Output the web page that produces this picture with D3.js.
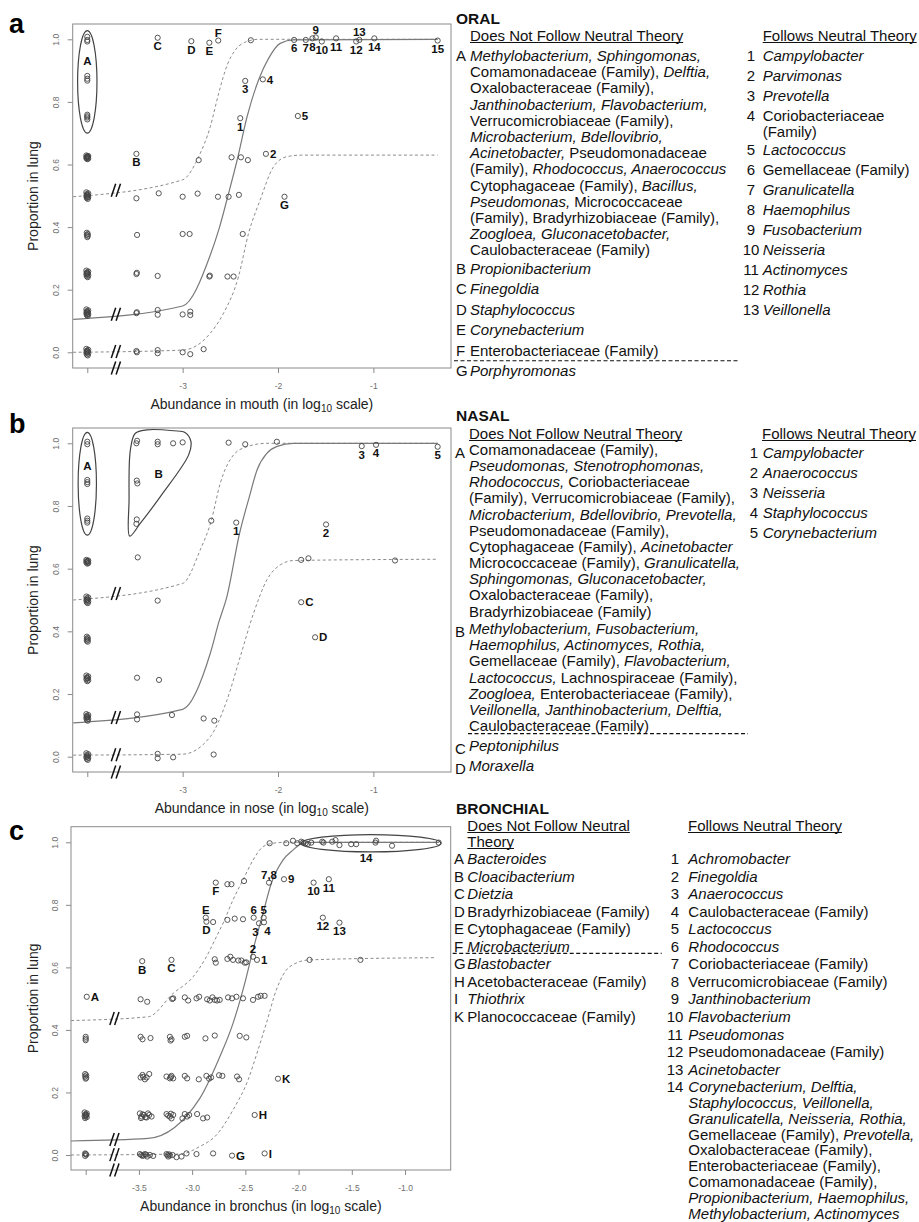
<!DOCTYPE html>
<html>
<head>
<meta charset="utf-8">
<script src="https://cdn.jsdelivr.net/npm/d3@7"></script>
<style>
  body { margin: 0; background: #fff; }
  svg { display: block; }
  text { font-family: "Liberation Sans", Arial, Helvetica, sans-serif; white-space: pre; }
</style>
</head>
<body>
<svg id="fig" width="919" height="1222"></svg>
<script>
// ---------------------------------------------------------------
// Values: log10 abundance in the source site (x) vs proportion of
// lungs in which the taxon was detected (y). Taxa absent from the
// source site are shown in the column at x = -4.
// ---------------------------------------------------------------

const yTicks = [0, 0.2, 0.4, 0.6, 0.8, 1.0];
const yTickLabels = ["0.0", "0.2", "0.4", "0.6", "0.8", "1.0"];

// ---------- ORAL ----------
const oralXTicks = [-4, -3, -2, -1];
const oralXTickLabels = ["", "-3", "-2", "-1"];
const oralZero = [[-4, 1.008], [-4, 0.998], [-4, 0.993], [-4, 0.883], [-4, 0.874], [-4, 0.868],
  [-4, 0.759], [-4, 0.754], [-4, 0.75], [-4, 0.744],
  [-4.01, 0.629], [-3.99, 0.627], [-4.005, 0.625], [-3.995, 0.623], [-4.01, 0.621], [-3.99, 0.619],
  [-4.0, 0.617], [-4.0, 0.624], [-4.004, 0.62], [-3.996, 0.626],
  [-4.01, 0.511], [-3.99, 0.508], [-4.005, 0.505], [-3.995, 0.502], [-4.01, 0.499], [-3.99, 0.496],
  [-4.005, 0.493], [-3.995, 0.49], [-4, 0.5], [-4, 0.504], [-4, 0.496],
  [-4.005, 0.382], [-3.995, 0.378], [-4.005, 0.375], [-3.995, 0.372], [-4, 0.368],
  [-4.01, 0.261], [-3.99, 0.258], [-4.005, 0.255], [-3.995, 0.252], [-4.01, 0.249], [-3.99, 0.246],
  [-4.005, 0.243], [-3.995, 0.24], [-4, 0.25], [-4, 0.254],
  [-4.01, 0.137], [-3.99, 0.134], [-4.005, 0.131], [-3.995, 0.128], [-4.01, 0.125], [-3.99, 0.122],
  [-4.005, 0.119], [-3.995, 0.116], [-4, 0.13], [-4, 0.121], [-4, 0.126],
  [-4.01, 0.011], [-3.99, 0.008], [-4.005, 0.005], [-3.995, 0.002], [-4.01, -0.001], [-3.99, -0.004],
  [-4.005, -0.007], [-3.995, -0.01], [-4, 0.0], [-4, 0.004]];
const oralPts = [[-3.485, 0.492], [-3.478, 0.375], [-3.485, 0.25], [-3.48, 0.254], [-3.485, 0.125], [-3.48, 0.128],
  [-3.485, 0.004], [-3.48, 0.0], [-3.251, 0.508], [-3.262, 0.244], [-3.262, 0.135], [-3.262, 0.12],
  [-3.262, 0.007], [-3.262, -0.003], [-2.285, 0.997], [-3.0, 0.497], [-2.843, 0.507], [-2.63, 0.497],
  [-2.518, 0.497], [-2.41, 0.503], [-3.0, 0.378], [-2.927, 0.378], [-2.72, 0.242], [-2.715, 0.245],
  [-2.53, 0.242], [-2.466, 0.242], [-3.0, 0.121], [-2.92, 0.13], [-2.92, 0.119], [-3.0, 0.0],
  [-2.92, -0.006], [-2.78, 0.01], [-2.832, 0.614], [-2.487, 0.623], [-2.389, 0.623], [-2.316, 0.614],
  [-2.37, 0.378]];
const oralTagged = [["B", -3.485, 0.634], ["C", -3.262, 1.005], ["D", -2.909, 0.994], ["E", -2.72, 0.989],
  ["F", -2.627, 0.996], ["G", -1.932, 0.497], ["1", -2.396, 0.748], ["2", -2.127, 0.634], ["3", -2.344, 0.867],
  ["4", -2.159, 0.872], ["5", -1.792, 0.755], ["6", -1.831, 0.998], ["7", -1.709, 0.998], ["8", -1.639, 1.003],
  ["9", -1.604, 1.006], ["10", -1.541, 0.993], ["11", -1.391, 1.003], ["12", -1.18, 0.993], ["13", -1.147, 0.998],
  ["14", -0.99, 1.003], ["15", -0.326, 0.996]];
const oralFit = [[-4.148, 0.105], [-3.0, 0.148], [-2.71, 0.311], [-2.613, 0.4], [-2.525, 0.5], [-2.424, 0.62],
  [-2.326, 0.751], [-2.204, 0.87], [-2.099, 0.939], [-1.977, 0.987], [-1.838, 0.998], [-0.326, 1.0]];
const oralUpper = [[-4.148, 0.497], [-3.0, 0.551], [-2.832, 0.625], [-2.71, 0.721], [-2.62, 0.83],
  [-2.53, 0.92], [-2.45, 0.965], [-2.35, 0.99], [-2.2, 1.0], [-0.326, 1.0]];
const oralLower = [[-4.148, 0.0], [-3.0, 0.007], [-2.71, 0.061], [-2.571, 0.125], [-2.414, 0.242],
  [-2.309, 0.38], [-2.187, 0.487], [-2.047, 0.593], [-1.907, 0.625], [-1.75, 0.63], [-0.326, 0.63]];
// group outline: tag, centre x, centre y, radius x, radius y, tag x, tag y
const oralGroups = [["A", -4, 0.864, 0.1016, 0.164, -4, 0.931]];

const oralOutliers = [
  ["A", ["*Methylobacterium, Sphingomonas,*", "Comamonadaceae (Family), *Delftia,*",
         "Oxalobacteraceae (Family),", "*Janthinobacterium, Flavobacterium,*",
         "Verrucomicrobiaceae (Family),", "*Microbacterium, Bdellovibrio,*",
         "*Acinetobacter,* Pseudomonadaceae", "(Family), *Rhodococcus, Anaerococcus*",
         "Cytophagaceae (Family), *Bacillus,*", "*Pseudomonas,* Micrococcaceae",
         "(Family), Bradyrhizobiaceae (Family),", "*Zoogloea, Gluconacetobacter,*",
         "Caulobacteraceae (Family)"]],
  ["B", ["*Propionibacterium*"]],
  ["C", ["*Finegoldia*"]],
  ["D", ["*Staphylococcus*"]],
  ["E", ["*Corynebacterium*"]],
  ["F", ["Enterobacteriaceae (Family)"]],
  ["G", ["*Porphyromonas*"]]
];
const oralNeutral = [
  ["1", ["*Campylobacter*"]], ["2", ["*Parvimonas*"]], ["3", ["*Prevotella*"]],
  ["4", ["Coriobacteriaceae", "(Family)"]], ["5", ["*Lactococcus*"]], ["6", ["Gemellaceae (Family)"]],
  ["7", ["*Granulicatella*"]], ["8", ["*Haemophilus*"]], ["9", ["*Fusobacterium*"]],
  ["10", ["*Neisseria*"]], ["11", ["*Actinomyces*"]], ["12", ["*Rothia*"]], ["13", ["*Veillonella*"]]
];

// ---------- NASAL ----------
const nasalXTicks = [-4, -3, -2, -1];
const nasalXTickLabels = ["", "-3", "-2", "-1"];
const nasalZero = [[-4, 1.005], [-4, 0.997], [-4, 0.883], [-4, 0.876], [-4, 0.87], [-4, 0.76], [-4, 0.753],
  [-4, 0.747],
  [-4.01, 0.628], [-3.99, 0.626], [-4.005, 0.624], [-3.995, 0.622], [-4.01, 0.62], [-3.99, 0.618],
  [-4, 0.616], [-4, 0.623],
  [-4.01, 0.511], [-3.99, 0.508], [-4.005, 0.505], [-3.995, 0.502], [-4.01, 0.499], [-3.99, 0.496],
  [-4.005, 0.493], [-3.995, 0.49], [-4, 0.5],
  [-4.005, 0.383], [-3.995, 0.379], [-4.005, 0.376], [-3.995, 0.373], [-4.005, 0.37], [-3.995, 0.367],
  [-4.01, 0.259], [-3.99, 0.256], [-4.005, 0.253], [-3.995, 0.25], [-4.01, 0.247], [-3.99, 0.244],
  [-4, 0.241], [-4, 0.251],
  [-4.01, 0.136], [-3.99, 0.133], [-4.005, 0.13], [-3.995, 0.127], [-4.01, 0.124], [-3.99, 0.121],
  [-4.005, 0.118], [-3.995, 0.115], [-4, 0.126],
  [-4.01, 0.011], [-3.99, 0.008], [-4.005, 0.005], [-3.995, 0.002], [-4.01, -0.001], [-3.99, -0.004],
  [-4.005, -0.007], [-3.995, -0.01], [-4, 0.0]];
const nasalPts = [[-3.485, 1.0], [-3.478, 1.008], [-3.262, 1.005], [-3.262, 0.997], [-3.10, 1.0], [-3.0, 1.003],
  [-3.481, 0.881], [-3.475, 0.872], [-3.481, 0.757], [-3.485, 0.743], [-3.471, 0.636], [-3.262, 0.498],
  [-3.478, 0.252], [-3.248, 0.245], [-3.478, 0.135], [-3.478, 0.119], [-3.112, 0.133], [-2.78, 0.122],
  [-2.668, 0.115], [-3.262, 0.009], [-3.262, -0.005], [-3.10, -0.002], [-2.675, 0.007], [-2.518, 1.002],
  [-2.344, 0.997], [-2.012, 1.005], [-2.70, 0.753], [-1.757, 0.628], [-1.681, 0.633], [-0.773, 0.626]];
const nasalTagged = [["1", -2.438, 0.747], ["2", -1.496, 0.741], ["3", -1.122, 0.991], ["4", -0.972, 0.995],
  ["5", -0.326, 0.989], ["C", -1.757, 0.493], ["D", -1.611, 0.381]];
const nasalFit = [[-4.148, 0.108], [-3.0, 0.151], [-2.71, 0.33], [-2.62, 0.43], [-2.536, 0.511], [-2.403, 0.713],
  [-2.3, 0.83], [-2.22, 0.915], [-2.117, 0.968], [-2.01, 0.99], [-1.84, 1.0], [-0.326, 1.0]];
const nasalUpper = [[-4.148, 0.5], [-3.0, 0.553], [-2.815, 0.66], [-2.7, 0.753], [-2.606, 0.872],
  [-2.466, 0.963], [-2.326, 0.989], [-2.117, 1.0], [-0.326, 1.0]];
const nasalLower = [[-4.148, 0.005], [-3.0, 0.008], [-2.71, 0.064], [-2.536, 0.18], [-2.396, 0.319],
  [-2.257, 0.457], [-2.117, 0.564], [-1.977, 0.612], [-1.838, 0.626], [-0.326, 0.63]];
const nasalGroups = [["A", -4, 0.871, 0.096, 0.164, -4, 0.929]];
// outline of group B
const nasalHull = [[-3.555, 0.704], [-3.562, 0.819], [-3.548, 0.979], [-3.496, 1.032], [-3.373, 1.043],
  [-3.094, 1.04], [-2.972, 1.034], [-2.913, 1.005], [-2.937, 0.963], [-3.234, 0.83], [-3.443, 0.745]];
const nasalHullTag = ["B", -3.251, 0.902];

const nasalOutliers = [
  ["A", ["Comamonadaceae (Family),", "*Pseudomonas, Stenotrophomonas,*",
         "*Rhodococcus,* Coriobacteriaceae", "(Family), Verrucomicrobiaceae (Family),",
         "*Microbacterium, Bdellovibrio, Prevotella,*", "Pseudomonadaceae (Family),",
         "Cytophagaceae (Family), *Acinetobacter*", "Micrococcaceae (Family), *Granulicatella,*",
         "*Sphingomonas, Gluconacetobacter,*", "Oxalobacteraceae (Family),",
         "Bradyrhizobiaceae (Family)"]],
  ["B", ["*Methylobacterium, Fusobacterium,*", "*Haemophilus, Actinomyces, Rothia,*",
         "Gemellaceae (Family), *Flavobacterium,*", "*Lactococcus,* Lachnospiraceae (Family),",
         "*Zoogloea,* Enterobacteriaceae (Family),", "*Veillonella, Janthinobacterium, Delftia,*",
         "Caulobacteraceae (Family)"]],
  ["C", ["*Peptoniphilus*"]],
  ["D", ["*Moraxella*"]]
];
const nasalNeutral = [
  ["1", ["*Campylobacter*"]], ["2", ["*Anaerococcus*"]], ["3", ["*Neisseria*"]],
  ["4", ["*Staphylococcus*"]], ["5", ["*Corynebacterium*"]]
];

// ---------- BRONCHIAL ----------
const bronchXTicks = [-4, -3.5, -3.0, -2.5, -2.0, -1.5, -1.0];
const bronchXTickLabels = ["", "-3.5", "-3.0", "-2.5", "-2.0", "-1.5", "-1.0"];
const bronchZero = [[-4, 0.378], [-4, 0.372], [-4, 0.367],
  [-4.005, 0.259], [-3.995, 0.255], [-4.005, 0.251], [-3.995, 0.247], [-4, 0.244],
  [-4.01, 0.136], [-3.99, 0.133], [-4.005, 0.13], [-3.995, 0.127], [-4.01, 0.124], [-3.99, 0.121],
  [-4.005, 0.118], [-3.995, 0.129], [-4, 0.125],
  [-4.005, 0.005], [-3.995, 0.001], [-4.005, -0.003], [-4, 0.003]];
const bronchPts = [
  [-3.484, 0.498], [-3.422, 0.49], [-3.1875, 0.499], [-3.178, 0.501], [-3.069, 0.504], [-3.0375, 0.494],
  [-2.959, 0.501], [-2.934, 0.506], [-2.859, 0.498], [-2.834, 0.494], [-2.809, 0.504], [-2.7875, 0.496],
  [-2.766, 0.494], [-2.741, 0.496], [-2.6625, 0.504], [-2.625, 0.501], [-2.584, 0.506], [-2.522, 0.501],
  [-2.428, 0.496], [-2.381, 0.506], [-2.356, 0.509], [-2.319, 0.509],
  [-3.484, 0.378], [-3.466, 0.37], [-3.391, 0.374], [-3.209, 0.378], [-3.194, 0.37], [-3.203, 0.366],
  [-3.069, 0.378], [-3.047, 0.381], [-2.875, 0.373], [-2.7875, 0.382], [-2.553, 0.381], [-2.491, 0.376],
  [-3.484, 0.248], [-3.466, 0.256], [-3.444, 0.242], [-3.428, 0.248], [-3.403, 0.259], [-3.241, 0.251],
  [-3.209, 0.245], [-3.194, 0.253], [-3.178, 0.245], [-3.069, 0.253], [-3.047, 0.245], [-2.9375, 0.242],
  [-2.866, 0.253], [-2.841, 0.244], [-2.822, 0.248], [-2.747, 0.255], [-2.716, 0.253], [-2.578, 0.251],
  [-2.559, 0.242], [-3.2, 0.249], [-3.46, 0.25],
  [-3.491, 0.133], [-3.475, 0.123], [-3.453, 0.128], [-3.428, 0.12], [-3.403, 0.128], [-3.381, 0.123],
  [-3.465, 0.13], [-3.44, 0.121], [-3.415, 0.133], [-3.48, 0.118],
  [-3.241, 0.131], [-3.209, 0.123], [-3.194, 0.117], [-3.178, 0.128], [-3.225, 0.126], [-3.2, 0.132],
  [-3.091, 0.117], [-3.069, 0.131],
  [-3.047, 0.123], [-3.028, 0.128], [-2.953, 0.131], [-2.897, 0.117], [-2.859, 0.12],
  [-3.491, 0.003], [-3.466, -0.003], [-3.444, 0.003], [-3.422, -0.005], [-3.397, 0.0], [-3.366, -0.003],
  [-3.478, 0.0], [-3.455, -0.001], [-3.432, 0.001],
  [-3.241, 0.003], [-3.225, -0.005], [-3.209, -0.002], [-3.184, 0.0], [-3.232, 0.0], [-3.216, 0.002],
  [-3.147, -0.007], [-3.1, -0.005],
  [-3.053, 0.005], [-2.959, 0.003], [-2.803, 0.005],
  [-2.7875, 0.626], [-2.778, 0.615], [-2.669, 0.627], [-2.641, 0.634], [-2.616, 0.624], [-2.566, 0.622],
  [-2.5375, 0.622], [-2.506, 0.615], [-2.491, 0.616], [-1.897, 0.624], [-1.419, 0.624],
  [-2.803, 0.745], [-2.669, 0.752], [-2.6, 0.756], [-2.522, 0.754],
  [-2.669, 0.866], [-2.631, 0.866], [-2.5125, 0.876],
  [-2.272, 0.997], [-2.116, 0.997], [-2.053, 1.005], [-2.0125, 0.997], [-1.975, 1.002], [-1.959, 0.999],
  [-1.934, 0.997], [-1.9125, 0.995], [-1.881, 0.999], [-1.778, 1.002], [-1.766, 0.999], [-1.684, 1.002],
  [-1.653, 1.007], [-1.616, 0.991], [-1.506, 0.994], [-1.459, 0.994], [-1.278, 0.999], [-1.272, 1.005],
  [-1.122, 0.989], [-0.684, 0.999]];
const bronchTagged = [["A", -3.99, 0.506], ["B", -3.469, 0.62], ["C", -3.194, 0.624], ["D", -2.866, 0.746],
  ["E", -2.872, 0.759], ["F", -2.778, 0.871], ["G", -2.625, -0.002], ["H", -2.4125, 0.128], ["I", -2.319, 0.005],
  ["K", -2.194, 0.244], ["1", -2.391, 0.624], ["2", -2.428, 0.634], ["3", -2.372, 0.741], ["4", -2.325, 0.744],
  ["5", -2.328, 0.759], ["6", -2.422, 0.759], ["7,8", -2.278, 0.871], ["9", -2.1375, 0.882],
  ["10", -1.859, 0.871], ["11", -1.716, 0.882], ["12", -1.772, 0.759], ["13", -1.616, 0.743]];
const bronchFit = [[-4.1375, 0.0448], [-3.4125, 0.053], [-2.928, 0.181], [-2.74, 0.314], [-2.616, 0.421],
  [-2.506, 0.549], [-2.428, 0.656], [-2.334, 0.773], [-2.256, 0.869], [-2.147, 0.943], [-2.053, 0.975],
  [-1.975, 0.995], [-1.866, 1.0], [-0.684, 1.0]];
const bronchUpper = [[-4.1375, 0.43], [-3.4125, 0.442], [-3.178, 0.517], [-2.991, 0.57], [-2.866, 0.634],
  [-2.772, 0.698], [-2.703, 0.746], [-2.616, 0.816], [-2.522, 0.88], [-2.428, 0.943], [-2.334, 0.986],
  [-2.241, 0.997], [-2.116, 1.0], [-0.684, 1.0]];
const bronchLower = [[-4.1375, 0.0], [-3.116, 0.003], [-2.928, 0.027], [-2.772, 0.064], [-2.616, 0.144],
  [-2.475, 0.24], [-2.381, 0.336], [-2.303, 0.421], [-2.209, 0.528], [-2.084, 0.602], [-1.897, 0.624],
  [-0.709, 0.631]];
const bronchGroups = [["14", -1.319, 0.997, 0.656, 0.0277, -1.366, 0.949]];

const bronchOutliers = [
  ["A", ["*Bacteroides*"]], ["B", ["*Cloacibacterium*"]], ["C", ["*Dietzia*"]],
  ["D", ["Bradyrhizobiaceae (Family)"]], ["E", ["Cytophagaceae (Family)"]], ["F", ["*Microbacterium*"]],
  ["G", ["*Blastobacter*"]], ["H", ["Acetobacteraceae (Family)"]], ["I", ["*Thiothrix*"]],
  ["K", ["Planococcaceae (Family)"]]
];
const bronchNeutral = [
  ["1", ["*Achromobacter*"]], ["2", ["*Finegoldia*"]], ["3", ["*Anaerococcus*"]],
  ["4", ["Caulobacteraceae (Family)"]], ["5", ["*Lactococcus*"]], ["6", ["*Rhodococcus*"]],
  ["7", ["Coriobacteriaceae (Family)"]], ["8", ["Verrucomicrobiaceae (Family)"]],
  ["9", ["*Janthinobacterium*"]], ["10", ["*Flavobacterium*"]], ["11", ["*Pseudomonas*"]],
  ["12", ["Pseudomonadaceae (Family)"]], ["13", ["*Acinetobacter*"]],
  ["14", ["*Corynebacterium, Delftia,*", "*Staphylococcus, Veillonella,*",
          "*Granulicatella, Neisseria, Rothia,*", "Gemellaceae (Family), *Prevotella,*",
          "Oxalobacteraceae (Family),", "Enterobacteriaceae (Family),", "Comamonadaceae (Family),",
          "*Propionibacterium, Haemophilus,*", "*Methylobacterium, Actinomyces*"]]
];

// ---------------------------------------------------------------
// Layout and styling
// ---------------------------------------------------------------
// where each point tag sits: b below, a above, r right, bl/br below and nudged left/right
const tagSide = {
  oral: {B: "b", C: "b", D: "b", E: "b", F: "a", G: "b", "1": "b", "2": "r", "3": "b", "4": "r", "5": "r",
         "6": "b", "7": "b", "8": "b", "9": "a", "10": "b", "11": "b", "12": "b", "13": "a", "14": "b", "15": "b"},
  nasal: {"1": "b", "2": "b", "3": "b", "4": "b", "5": "b", C: "r", D: "r"},
  bronch: {A: "r", B: "b", C: "b", D: "b", E: "a", F: "b", G: "r", H: "r", I: "r", K: "r",
           "1": "r", "2": "a", "3": "bl", "4": "br", "5": "a", "6": "a", "7,8": "a", "9": "r",
           "10": "b", "11": "b", "12": "b", "13": "b"}
};

const svg = d3.select("#fig");
const INK = "#111";

function richLine(g, x, y, str, size) {
  const t = g.append("text").attr("x", x).attr("y", y).attr("font-size", size).attr("fill", INK);
  str.split("*").forEach((part, i) => {
    if (!part) return;
    t.append("tspan").attr("font-style", i % 2 ? "italic" : "normal").text(part);
  });
  return t;
}

function underlined(g, x, y, str, size) {
  const t = g.append("text").attr("x", x).attr("y", y).attr("font-size", size).attr("fill", INK).text(str);
  const w = t.node().getComputedTextLength();
  g.append("line").attr("x1", x).attr("x2", x + w).attr("y1", y + 2).attr("y2", y + 2)
    .attr("stroke", INK).attr("stroke-width", 1.1);
}

function drawPanel(L, P) {
  const x = d3.scaleLinear().domain(L.xd).range([L.left, L.right]);
  const y = d3.scaleLinear().domain(L.yd).range([L.bottom, L.top]);
  const g = svg.append("g");

  // x axis
  const ax = g.append("g").attr("transform", `translate(0,${L.bottom})`)
    .call(d3.axisBottom(x).tickValues(P.xTicks).tickFormat((d, i) => P.xTickLabels[i])
      .tickSize(5).tickPadding(9.5));
  ax.select(".domain").remove();
  ax.attr("color", "#8a8a8a").attr("font-size", 8.5).attr("font-family", null);
  ax.selectAll("text").attr("fill", "#6e6e6e");

  // y axis, labels parallel to the axis
  const ay = g.append("g").attr("transform", `translate(${L.left},0)`)
    .call(d3.axisLeft(y).tickValues(yTicks).tickFormat((d, i) => yTickLabels[i]).tickSize(5));
  ay.select(".domain").remove();
  ay.attr("color", "#8a8a8a").attr("font-size", 8.5).attr("font-family", null);
  ay.selectAll("text").attr("fill", "#6e6e6e").attr("x", null).attr("dy", null)
    .attr("text-anchor", "middle").attr("transform", "translate(-13.5,0) rotate(-90)");

  // frame
  g.append("rect").attr("x", L.left).attr("y", L.top).attr("width", L.right - L.left)
    .attr("height", L.bottom - L.top).attr("fill", "none").attr("stroke", "#8a8a8a").attr("stroke-width", 1);

  // titles
  const xt = g.append("text").attr("x", (L.left + L.right) / 2).attr("y", L.bottom + 41)
    .attr("text-anchor", "middle").attr("font-size", 14).attr("fill", "#222");
  xt.append("tspan").text(`Abundance in ${L.site} (in log`);
  xt.append("tspan").attr("font-size", 10).attr("dy", 3).text("10");
  xt.append("tspan").attr("dy", -3).text(" scale)");
  g.append("text").attr("transform", `translate(38,${(L.top + L.bottom) / 2}) rotate(-90)`)
    .attr("text-anchor", "middle").attr("font-size", 14).attr("fill", "#222").text("Proportion in lung");
  g.append("text").attr("x", 9).attr("y", L.letterY).attr("font-size", 27).attr("font-weight", "bold")
    .attr("fill", "#000").text(L.letter);

  // neutral model fit and its bounds
  const line = d3.line().x(d => x(d[0])).y(d => y(d[1])).curve(d3.curveMonotoneX);
  g.append("path").attr("d", line(P.upper)).attr("fill", "none").attr("stroke", "#8c8c8c")
    .attr("stroke-width", 1).attr("stroke-dasharray", "3,2.5");
  g.append("path").attr("d", line(P.lower)).attr("fill", "none").attr("stroke", "#8c8c8c")
    .attr("stroke-width", 1).attr("stroke-dasharray", "3,2.5");
  g.append("path").attr("d", line(P.fit)).attr("fill", "none").attr("stroke", "#7a7a7a")
    .attr("stroke-width", 1.2);

  // axis-break marks on each curve and on the x axis
  const interp = (arr, xv) => {
    for (let i = 1; i < arr.length; i++) {
      if (xv <= arr[i][0]) {
        const t = (xv - arr[i - 1][0]) / (arr[i][0] - arr[i - 1][0]);
        return arr[i - 1][1] + t * (arr[i][1] - arr[i - 1][1]);
      }
    }
    return arr[arr.length - 1][1];
  };
  const bx = x(L.breakAt);
  const breakYs = [y(interp(P.upper, L.breakAt)), y(interp(P.fit, L.breakAt)),
    y(interp(P.lower, L.breakAt)), L.bottom];
  breakYs.forEach(by => {
    [-2.4, 2.4].forEach(off => {
      g.append("line").attr("x1", bx + off - 2.2).attr("y1", by + 6.5).attr("x2", bx + off + 2.2).attr("y2", by - 6.5)
        .attr("stroke", "#111").attr("stroke-width", 1.5);
    });
  });

  // groups of taxa outside the model
  P.groups.forEach(([tag, cx, cy, rx, ry, tx, ty]) => {
    g.append("ellipse").attr("cx", x(cx)).attr("cy", y(cy))
      .attr("rx", x(cx + rx) - x(cx)).attr("ry", y(cy - ry) - y(cy))
      .attr("fill", "none").attr("stroke", "#444").attr("stroke-width", 1.2);
    g.append("text").attr("x", x(tx)).attr("y", y(ty) + 4.2).attr("text-anchor", "middle")
      .attr("font-size", 11.5).attr("font-weight", "bold").attr("fill", INK).text(tag);
  });
  if (P.hull) {
    g.append("path").attr("d", d3.line().x(d => x(d[0])).y(d => y(d[1]))
      .curve(d3.curveCatmullRomClosed.alpha(0.5))(P.hull))
      .attr("fill", "none").attr("stroke", "#444").attr("stroke-width", 1.2);
    g.append("text").attr("x", x(P.hullTag[1])).attr("y", y(P.hullTag[2]) + 4.2).attr("text-anchor", "middle")
      .attr("font-size", 11.5).attr("font-weight", "bold").attr("fill", INK).text(P.hullTag[0]);
  }

  // points
  const pts = P.zero.concat(P.pts, P.tagged.map(d => [d[1], d[2]]));
  g.append("g").selectAll("circle").data(pts).join("circle")
    .attr("cx", d => x(d[0])).attr("cy", d => y(d[1])).attr("r", 2.6)
    .attr("fill", "none").attr("stroke", "#444").attr("stroke-width", 0.9);

  // point tags
  P.tagged.forEach(([tag, xv, yv]) => {
    const side = P.sides[tag];
    const px = x(xv), py = y(yv);
    const t = g.append("text").attr("font-size", 11.5).attr("font-weight", "bold").attr("fill", INK).text(tag);
    if (side === "r") t.attr("x", px + 4).attr("y", py + 4.2);
    else if (side === "a") t.attr("x", px).attr("y", py - 3.5).attr("text-anchor", "middle");
    else if (side === "bl") t.attr("x", px - 3.5).attr("y", py + 12.5).attr("text-anchor", "middle");
    else if (side === "br") t.attr("x", px + 3.5).attr("y", py + 12.5).attr("text-anchor", "middle");
    else t.attr("x", px).attr("y", py + 12.5).attr("text-anchor", "middle");
  });
}

function drawLegend(C, title, leftHead, rightHead, left, right) {
  const g = svg.append("g");
  const fs = 15;
  g.append("text").attr("x", C.titleX).attr("y", C.titleY).attr("font-size", 15.5)
    .attr("font-weight", "bold").attr("fill", INK).text(title);
  leftHead.forEach((t, i) => underlined(g, C.headLeftX, C.headY + i * C.headLineH, t, fs));
  underlined(g, C.headRightX, C.headY, rightHead, fs);

  function column(entries, S, keyX, keyAnchor, textX, firstY) {
    let yy = firstY, prevLines = 0, prevKey = null;
    entries.forEach(([key, lines], k) => {
      if (k > 0) yy += (prevLines > 1 ? S.stepWrap : S.step) + (prevKey === C.dashAfter ? C.dashExtra : 0);
      g.append("text").attr("x", keyX).attr("y", yy + (S.keyDy || 0)).attr("font-size", fs)
        .attr("text-anchor", keyAnchor).attr("fill", INK).text(key);
      lines.forEach((ln, j) => richLine(g, textX, yy + j * S.lineH, ln, fs));
      yy += (lines.length - 1) * S.lineH;
      if (key === C.dashAfter && S.dash) {
        g.append("line").attr("x1", C.dashX[0]).attr("x2", C.dashX[1])
          .attr("y1", yy + C.dashDy).attr("y2", yy + C.dashDy)
          .attr("stroke", INK).attr("stroke-width", 1.1).attr("stroke-dasharray", "4,2.5");
      }
      prevLines = lines.length; prevKey = key;
    });
  }
  column(left, Object.assign({dash: true}, C.left), C.keyX, "start", C.textX, C.firstY);
  column(right, C.right, C.numX, "middle", C.rightTextX, C.rightFirstY);
}

// ---------------------------------------------------------------
const panels = [
  {L: {site: "mouth", letter: "a", letterY: 33, left: 72.7, right: 451, top: 24, bottom: 368,
       xd: [-4.153, -0.186], yd: [-0.0502, 1.0489], breakAt: -3.70},
   P: {xTicks: oralXTicks, xTickLabels: oralXTickLabels, zero: oralZero, pts: oralPts, tagged: oralTagged,
       fit: oralFit, upper: oralUpper, lower: oralLower, groups: oralGroups, sides: tagSide.oral}},
  {L: {site: "nose", letter: "b", letterY: 433, left: 72.7, right: 451, top: 428, bottom: 772,
       xd: [-4.153, -0.186], yd: [-0.0488, 1.0488], breakAt: -3.70},
   P: {xTicks: nasalXTicks, xTickLabels: nasalXTickLabels, zero: nasalZero, pts: nasalPts, tagged: nasalTagged,
       fit: nasalFit, upper: nasalUpper, lower: nasalLower, groups: nasalGroups, sides: tagSide.nasal,
       hull: nasalHull, hullTag: nasalHullTag}},
  {L: {site: "bronchus", letter: "c", letterY: 840, left: 71, right: 450.7, top: 826.7, bottom: 1170,
       xd: [-4.138, -0.571], yd: [-0.048, 1.0499], breakAt: -3.73},
   P: {xTicks: bronchXTicks, xTickLabels: bronchXTickLabels, zero: bronchZero, pts: bronchPts,
       tagged: bronchTagged, fit: bronchFit, upper: bronchUpper, lower: bronchLower, groups: bronchGroups,
       sides: tagSide.bronch}}
];
panels.forEach(p => drawPanel(p.L, p.P));

drawLegend({titleX: 456, titleY: 24, headLeftX: 470, headRightX: 762.7, headY: 40.5, headLineH: 16,
            keyX: 456, textX: 470, numX: 751, rightTextX: 762.7, firstY: 61, rightFirstY: 61,
            left: {lineH: 16.2, step: 20.4, stepWrap: 18.6}, right: {lineH: 16.2, step: 20, stepWrap: 17.8},
            dashAfter: "F", dashDy: 5.1, dashExtra: 0, dashX: [454, 739]},
  "ORAL", ["Does Not Follow Neutral Theory"], "Follows Neutral Theory", oralOutliers, oralNeutral);

drawLegend({titleX: 456, titleY: 420.5, headLeftX: 469, headRightX: 762, headY: 438.5, headLineH: 16,
            keyX: 455, textX: 469, numX: 754, rightTextX: 762.7, firstY: 455, rightFirstY: 457.7,
            left: {lineH: 16.15, step: 20, stepWrap: 17.6, keyDy: 2.5}, right: {lineH: 16.2, step: 20, stepWrap: 20},
            dashAfter: "B", dashDy: 2.6, dashExtra: 2.7, dashX: [468, 748]},
  "NASAL", ["Does Not Follow Neutral Theory"], "Follows Neutral Theory", nasalOutliers, nasalNeutral);

drawLegend({titleX: 456, titleY: 814, headLeftX: 467.3, headRightX: 688, headY: 830.5, headLineH: 16,
            keyX: 454, textX: 467.3, numX: 675, rightTextX: 688.3, firstY: 864, rightFirstY: 864,
            left: {lineH: 16.3, step: 17.55, stepWrap: 17.55}, right: {lineH: 15.8, step: 17.55, stepWrap: 16.7},
            dashAfter: "F", dashDy: 1.6, dashExtra: 0, dashX: [452.7, 661.7]},
  "BRONCHIAL", ["Does Not Follow Neutral", "Theory"], "Follows Neutral Theory", bronchOutliers, bronchNeutral);
</script>
</body>
</html>
